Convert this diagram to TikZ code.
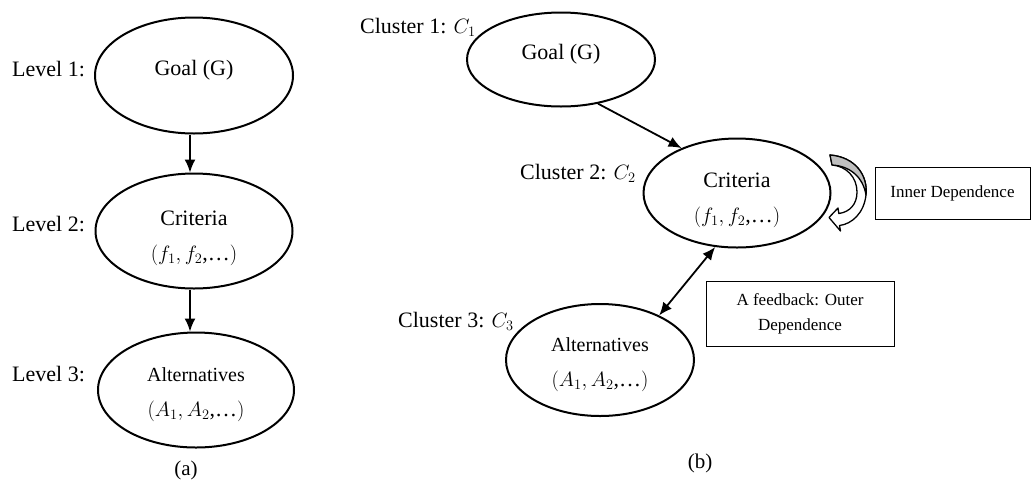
\documentclass[tikz,border=0pt]{standalone}
\usepackage{fontspec}
\setmainfont{Liberation Serif}
\usetikzlibrary{shapes.geometric,arrows.meta,calc}

\tikzset{
  ell/.style={ellipse, draw, line width=2pt, inner sep=0pt, align=center,
              font=\fontsize{22}{35}\selectfont},
  lbl/.style={anchor=west, inner sep=0pt, font=\fontsize{22}{26}\selectfont},
  subcap/.style={inner sep=0pt, font=\fontsize{21}{26}\selectfont},
  note/.style={rectangle, draw, line width=1pt, align=center, inner sep=0pt,
               font=\fontsize{17}{25}\selectfont},
  arr/.style={line width=1.8pt, -{Latex[length=13pt,width=11pt]}},
  darr/.style={line width=1.8pt, {Latex[length=13pt,width=11pt]}-{Latex[length=13pt,width=11pt]}}
}
% text shifted vertically inside an ellipse without changing its size
\newcommand{\oneline}[2]{\raisebox{#1}[\height][\depth]{#2}}
\newcommand{\twolines}[3]{\raisebox{#1}[\height][\depth]{\begin{tabular}{@{}c@{}}#2\\#3\end{tabular}}}
\newcommand{\altname}{{\fontsize{20}{35}\selectfont Alternatives}}

\begin{document}
\begin{tikzpicture}[x=1pt, y=-1pt]
\useasboundingbox (0,0) rectangle (1032,491);

% ---------- (a) hierarchy ----------
\node[ell, minimum width=198pt, minimum height=116pt] (ga) at (194,75.5) {\oneline{5pt}{Goal (G)}};
\node[ell, minimum width=197pt, minimum height=115pt] (ca) at (194,231) {\twolines{-5pt}{Criteria}{$(f_1, f_2$,…$)$}};
\node[ell, minimum width=196pt, minimum height=115pt] (aa) at (196,390) {\twolines{-2pt}{\altname}{$(A_1, A_2$,…$)$}};

\node[lbl] (l1) at (12,69) {Level 1:};
\node[lbl] (l2) at (12,224) {Level 2:};
\node[lbl] (l3) at (12,374) {Level 3:};

\draw[arr] ($(ga.south)+(-4,0)$) -- ($(ca.north)+(-4,0)$);
\draw[arr] ($(ca.south)+(-4,0)$) -- ($(aa.north)+(-6,0)$);

\node[subcap] (capa) at (186,470) {(a)};

% ---------- (b) network ----------
\node[ell, minimum width=188pt, minimum height=94pt] (gb) at (561,59.5) {\oneline{5pt}{Goal (G)}};
\node[ell, minimum width=187pt, minimum height=109pt] (cb) at (737,193) {\twolines{-5pt}{Criteria}{$(f_1, f_2$,…$)$}};
\node[ell, minimum width=188pt, minimum height=112pt] (ab) at (600,360) {\twolines{-2pt}{\altname}{$(A_1, A_2$,…$)$}};

\node[lbl] (k1) at (360,27) {Cluster 1: $C_1$};
\node[lbl] (k2) at (520,173) {Cluster 2: $C_2$};
\node[lbl] (k3) at (398,321) {Cluster 3: $C_3$};

\draw[arr] (gb.-50) -- (cb.141);
\draw[darr] (ab.37) -- (cb.-112);

\node[note, minimum width=155pt, minimum height=52pt] (inner) at (952.5,193) {Inner Dependence};
\node[note, minimum width=188pt, minimum height=65pt] (outer) at (800,313.5) {A feedback: Outer\\Dependence};

% curved self-loop arrow on the criteria cluster
\filldraw[fill=white, line width=1.3pt, line join=round]
  (830,155) .. controls (855,157) and (868,175) .. (866,195)
  .. controls (864,213) and (852,224) .. (839.5,225.5)
  -- (840.5,231) -- (829,217.5) -- (838,208) -- (838.8,213.5)
  .. controls (850,212) and (857,204) .. (857,192)
  .. controls (857,177) and (846,166) .. (832,165) -- cycle;
\filldraw[fill=black!25, line width=1.3pt, line join=round]
  (830,155) .. controls (855,157) and (868,175) .. (866,195)
  .. controls (863,177) and (850,166) .. (832,165) -- cycle;

\node[subcap] (capb) at (700,463) {(b)};
\end{tikzpicture}
\end{document}
